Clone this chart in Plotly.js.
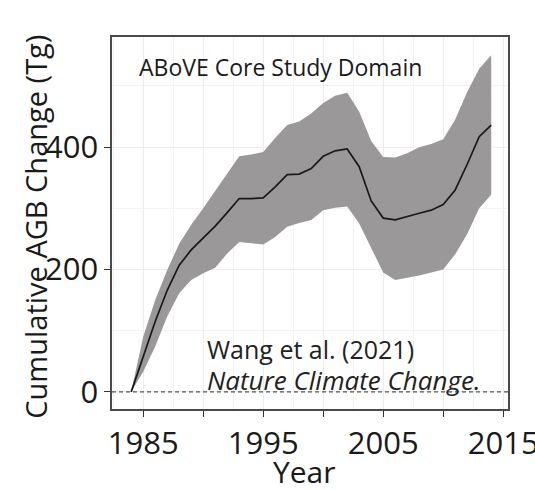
<!DOCTYPE html>
<html>
<head>
<meta charset="utf-8">
<script src="https://cdn.plot.ly/plotly-3.0.1.min.js"></script>
<style>
  html, body { margin: 0; padding: 0; background: #fff; }
  #chart { width: 535px; height: 490px; }
</style>
</head>
<body>
<div id="chart"></div>
<script>
// Data
const years = [1984,1985,1986,1987,1988,1989,1990,1991,1992,1993,1994,1995,1996,1997,1998,1999,
               2000,2001,2002,2003,2004,2005,2006,2007,2008,2009,2010,2011,2012,2013,2014];
const meanAGB = [0,58,115,166,207,232,252,271,293,316,316,317,335,355,356,365,
                 385,394,397,368,312,284,281,287,292,297,306,330,372,417,436];
const upperAGB = [0,90,150,199,242,273,300,328,356,385,388,392,415,436,442,455,
                  472,484,489,458,410,384,383,390,400,405,413,445,490,528,550];
const lowerAGB = [0,33,74,123,161,183,194,203,226,245,243,241,253,270,276,281,
                  297,301,303,275,235,195,183,186,190,195,200,225,258,300,322];
const xTickVals = [1985,1990,1995,2000,2005,2010,2015];
const xTickText = ['1985','','1995','','2005','','2015'];
const yTickVals = [0,200,400];
const yTickText = ['0','200','400'];
const xMinorGrid = [1982.5,1987.5,1992.5,1997.5,2002.5,2007.5,2012.5];
const yMinorGrid = [100,300,500];
const titleText = 'ABoVE Core Study Domain';
const citeLine1 = 'Wang et al. (2021)';
const citeLine2 = '<i>Nature Climate Change.</i>';
const xTitle = 'Year';
const yTitle = 'Cumulative AGB Change (Tg)';

const FONT = '"Open Sans", "DejaVu Sans", sans-serif';

const traces = [
  { x: years, y: lowerAGB, type: 'scatter', mode: 'lines',
    line: { width: 0, color: 'rgba(0,0,0,0)' }, hoverinfo: 'skip', showlegend: false },
  { x: years, y: upperAGB, type: 'scatter', mode: 'lines', fill: 'tonexty',
    fillcolor: '#9a9898', line: { width: 0, color: 'rgba(0,0,0,0)' },
    hoverinfo: 'skip', showlegend: false },
  { x: years, y: meanAGB, type: 'scatter', mode: 'lines',
    line: { width: 1.7, color: '#1a1a1a' }, showlegend: false }
];

const layout = {
  width: 535, height: 490,
  margin: { l: 112, r: 27, t: 37, b: 81 },
  paper_bgcolor: '#ffffff', plot_bgcolor: '#ffffff',
  font: { family: FONT, color: '#1a1a1a' },
  showlegend: false,
  xaxis: {
    range: [1982.4, 2015.4], tickmode: 'array', tickvals: xTickVals, ticktext: xTickText,
    ticks: 'outside', ticklen: 6, tickcolor: '#333', tickwidth: 1,
    tickfont: { size: 31, family: FONT, color: '#1a1a1a' },
    ticklabeloverflow: 'allow',
    showgrid: true, gridcolor: '#ececec', gridwidth: 1, zeroline: false,
    showline: true, mirror: true, linecolor: '#4a4a4a', linewidth: 1.6,
    minor: { tickmode: 'array', tickvals: xMinorGrid, showgrid: true, gridcolor: '#f2f2f2', ticks: '' },
    automargin: false
  },
  yaxis: {
    range: [-28, 580], tickmode: 'array', tickvals: yTickVals, ticktext: yTickText,
    ticks: 'outside', ticklen: 6, tickcolor: '#333', tickwidth: 1,
    tickfont: { size: 31, family: FONT, color: '#1a1a1a' },
    ticklabeloverflow: 'allow',
    showgrid: true, gridcolor: '#ececec', gridwidth: 1, zeroline: false,
    showline: true, mirror: true, linecolor: '#4a4a4a', linewidth: 1.6,
    minor: { tickmode: 'array', tickvals: yMinorGrid, showgrid: true, gridcolor: '#f2f2f2', ticks: '' },
    automargin: false
  },
  shapes: [
    { type: 'line', xref: 'paper', x0: 0, x1: 1, yref: 'y', y0: 0, y1: 0,
      line: { color: '#555', width: 1.2, dash: '4px,3px' } }
  ],
  annotations: [
    { text: yTitle, xref: 'paper', yref: 'paper', x: -0.192, y: 0.49,
      xanchor: 'center', yanchor: 'middle', textangle: -90, showarrow: false,
      font: { size: 29, family: FONT, color: '#1a1a1a' } },
    { text: xTitle, xref: 'paper', yref: 'paper', x: 0.486, y: -0.169,
      xanchor: 'center', yanchor: 'middle', showarrow: false,
      font: { size: 30, family: FONT, color: '#1a1a1a' } },
    { text: titleText, xref: 'paper', yref: 'paper', x: 0.063, y: 0.919,
      xanchor: 'left', yanchor: 'middle', showarrow: false,
      font: { size: 23, family: FONT, color: '#1a1a1a' } },
    { text: citeLine1, xref: 'paper', yref: 'paper', x: 0.235, y: 0.16,
      xanchor: 'left', yanchor: 'middle', showarrow: false,
      font: { size: 25, family: FONT, color: '#222' } },
    { text: citeLine2, xref: 'paper', yref: 'paper', x: 0.235, y: 0.077,
      xanchor: 'left', yanchor: 'middle', showarrow: false,
      font: { size: 26, family: FONT, color: '#222' } }
  ]
};

Plotly.newPlot('chart', traces, layout, { staticPlot: true, displayModeBar: false });
</script>
</body>
</html>
